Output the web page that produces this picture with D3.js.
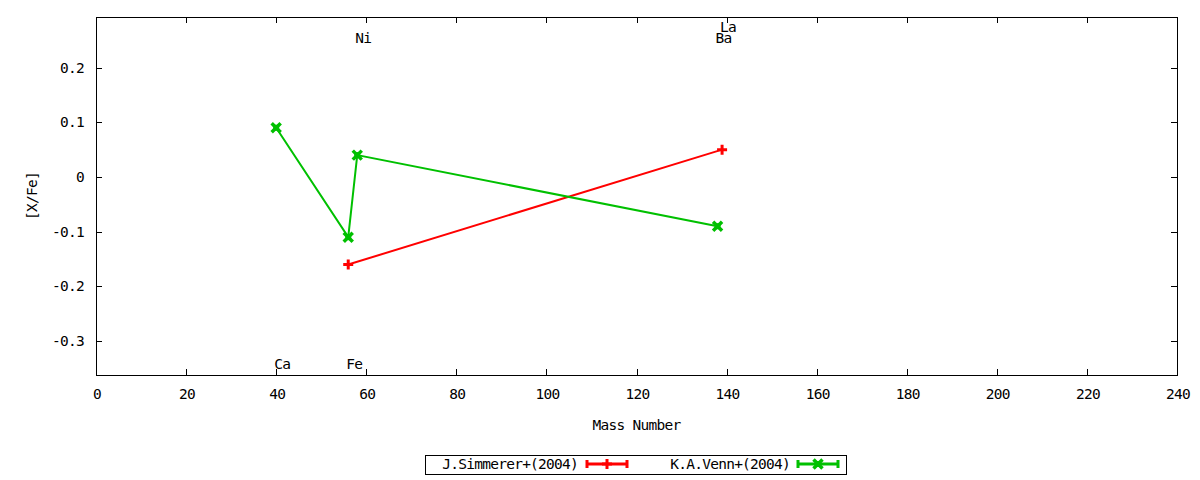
<!DOCTYPE html>
<html>
<head>
<meta charset="utf-8">
<script src="https://cdn.jsdelivr.net/npm/d3@7"></script>
<style>
  body { margin: 0; background: #fff; }
  text { font-family: "DejaVu Sans Mono", monospace; font-size: 14.5px; letter-spacing: -0.75px; fill: #000; }
</style>
</head>
<body>
<svg id="chart" width="1200" height="480"></svg>
<script>
// series data (mass number, [X/Fe])
const simmererMass = [56, 139];
const simmererVal = [-0.16, 0.05];
const vennMass = [40, 56, 58, 138];
const vennVal = [0.09, -0.11, 0.04, -0.09];

// element labels
const elemNames = ['Ca', 'Fe', 'Ni', 'Ba', 'La'];
const elemMass = [40, 56, 58, 138, 139];
const elemLabelY = [-0.342, -0.342, 0.254, 0.254, 0.274];

const xTicks = [0, 20, 40, 60, 80, 100, 120, 140, 160, 180, 200, 220, 240];
const yTicks = [-0.3, -0.2, -0.1, 0, 0.1, 0.2];

const width = 1200;
const height = 480;
const margin = { top: 17, right: 23, bottom: 105, left: 96 };

const svg = d3.select('#chart');

const xScale = d3.scaleLinear()
  .domain([0, 240])
  .range([margin.left, width - margin.right]);

const yScale = d3.scaleLinear()
  .domain([-0.362, 0.2925])
  .range([height - margin.bottom, margin.top]);

const x0 = margin.left, x1 = width - margin.right;
const y0 = height - margin.bottom, y1 = margin.top;
const tick = 6;

// gnuplot style tick text: plain hyphen for minus
const fmt = t => t === 0 ? '0' : d3.format('.1f')(t).replace('\u2212', '-');

// ticks, mirrored on all sides
const ticks = svg.append('g').attr('stroke', '#000').attr('stroke-width', 1);
xTicks.forEach(t => {
  const x = Math.round(xScale(t)) + 0.5;
  ticks.append('line').attr('x1', x).attr('x2', x).attr('y1', y0).attr('y2', y0 - tick);
  ticks.append('line').attr('x1', x).attr('x2', x).attr('y1', y1).attr('y2', y1 + tick);
  svg.append('text')
    .attr('x', xScale(t) + 1)
    .attr('y', y0 + 24)
    .attr('text-anchor', 'middle')
    .text(t);
});
yTicks.forEach(t => {
  const y = Math.round(yScale(t)) + 0.5;
  ticks.append('line').attr('x1', x0).attr('x2', x0 + tick).attr('y1', y).attr('y2', y);
  ticks.append('line').attr('x1', x1).attr('x2', x1 - tick).attr('y1', y).attr('y2', y);
  svg.append('text')
    .attr('x', x0 - 12)
    .attr('y', yScale(t) + 5)
    .attr('text-anchor', 'end')
    .text(fmt(t));
});

// border
svg.append('rect')
  .attr('x', x0 + 0.5).attr('y', y1 + 0.5)
  .attr('width', x1 - x0).attr('height', y0 - y1)
  .attr('fill', 'none').attr('stroke', '#000');

// axis titles
svg.append('text')
  .attr('x', (x0 + x1) / 2)
  .attr('y', 430)
  .attr('text-anchor', 'middle')
  .text('Mass Number');
svg.append('text')
  .attr('transform', `translate(37, ${(y0 + y1) / 2}) rotate(-90)`)
  .attr('text-anchor', 'middle')
  .text('[X/Fe]');

// element labels
elemNames.forEach((n, i) => {
  svg.append('text')
    .attr('x', xScale(elemMass[i]) - 2)
    .attr('y', yScale(elemLabelY[i]) + 5)
    .text(n);
});

const line = d3.line().x(d => xScale(d[0])).y(d => yScale(d[1]));

function plus(g, x, y, color) {
  g.append('path')
    .attr('d', `M${x - 5},${y}H${x + 5}M${x},${y - 5}V${y + 5}`)
    .attr('stroke', color).attr('stroke-width', 3).attr('fill', 'none');
}
function cross(g, x, y, color) {
  g.append('path')
    .attr('d', `M${x - 4.5},${y - 4.5}L${x + 4.5},${y + 4.5}M${x - 4.5},${y + 4.5}L${x + 4.5},${y - 4.5}`)
    .attr('stroke', color).attr('stroke-width', 3.5).attr('fill', 'none');
  g.append('rect').attr('x', x - 3).attr('y', y - 3).attr('width', 6).attr('height', 6).attr('fill', color);
}

const series = [
  { name: 'J.Simmerer+(2004)', mass: simmererMass, val: simmererVal, color: '#ff0000', mark: plus, legendEnd: 578, sample: [587, 627] },
  { name: 'K.A.Venn+(2004)', mass: vennMass, val: vennVal, color: '#00c000', mark: cross, legendEnd: 790, sample: [798, 838] }
];

series.forEach(s => {
  const pts = s.mass.map((m, i) => [m, s.val[i]]);
  const g = svg.append('g');
  g.append('path')
    .datum(pts)
    .attr('d', line)
    .attr('fill', 'none')
    .attr('stroke', s.color)
    .attr('stroke-width', 2);
  pts.forEach(p => s.mark(g, xScale(p[0]), yScale(p[1]), s.color));
});

// legend
const ly = 464;
svg.append('rect')
  .attr('x', 425.5).attr('y', 455.5)
  .attr('width', 421).attr('height', 19)
  .attr('fill', 'none').attr('stroke', '#000');
series.forEach(s => {
  const g = svg.append('g');
  g.append('text')
    .attr('x', s.legendEnd)
    .attr('y', ly + 5)
    .attr('text-anchor', 'end')
    .text(s.name);
  const [a, b] = s.sample;
  g.append('path')
    .attr('d', `M${a},${ly}H${b}M${a},${ly - 4}V${ly + 4}M${b},${ly - 4}V${ly + 4}`)
    .attr('stroke', s.color).attr('stroke-width', 3).attr('fill', 'none');
  s.mark(g, (a + b) / 2, ly, s.color);
});
</script>
</body>
</html>
